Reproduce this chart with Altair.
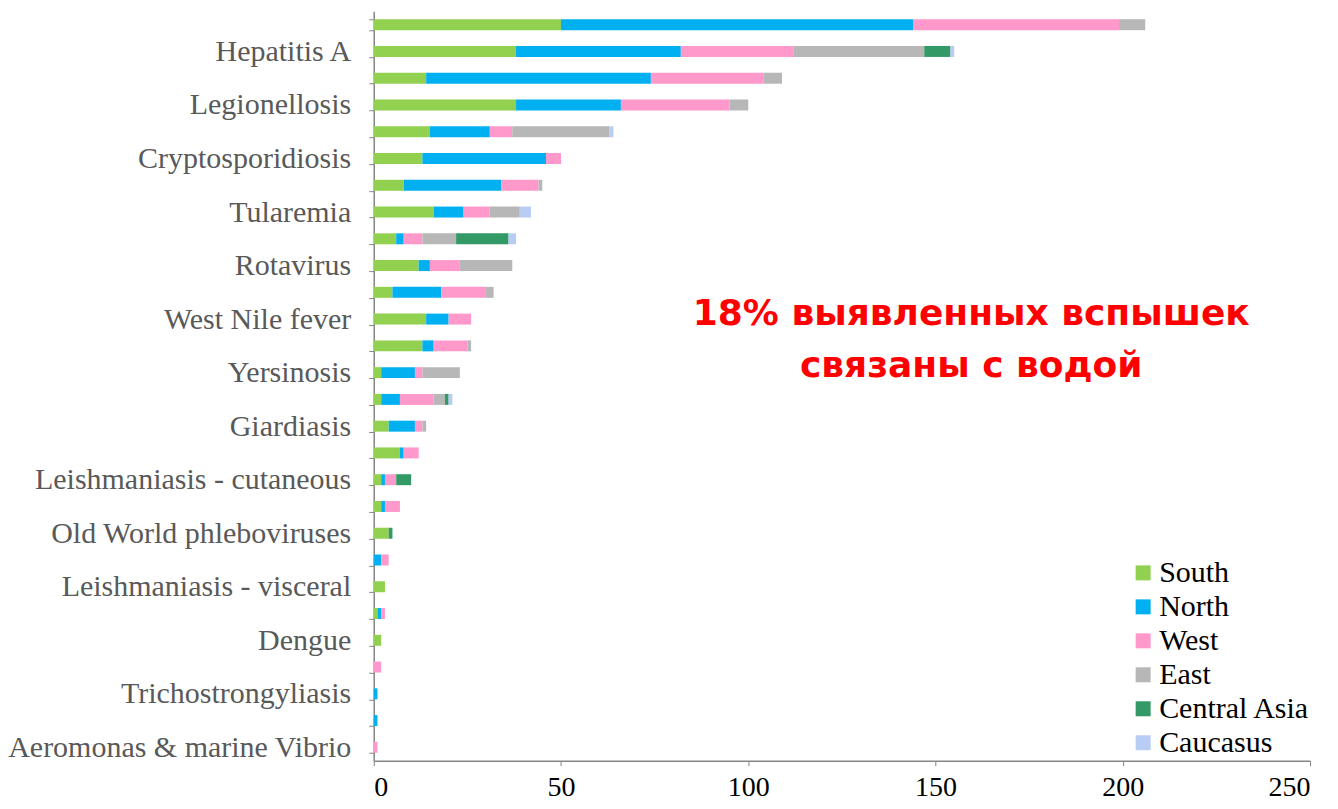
import altair as alt
import pandas as pd

labels = ["", "Hepatitis A", "", "Legionellosis", "", "Cryptosporidiosis", "",
          "Tularemia", "", "Rotavirus", "", "West Nile fever", "", "Yersinosis",
          "", "Giardiasis", "", "Leishmaniasis  - cutaneous", "",
          "Old World phleboviruses", "", "Leishmaniasis - visceral", "", "Dengue",
          "", "Trichostrongyliasis", "", "Aeromonas & marine Vibrio"]

regions = ["South", "North", "West", "East", "Central Asia", "Caucasus"]
colors = ["#92D050", "#00B0F0", "#FF99CC", "#B7B7B7", "#339966", "#B8CCF4"]

south = [50, 38, 14, 38, 15, 13, 8, 16, 6, 12, 5, 14, 13, 2, 2, 4, 7, 2, 2, 4, 0, 3, 1, 2, 0, 0, 0, 0]
north = [94, 44, 60, 28, 16, 33, 26, 8, 2, 3, 13, 6, 3, 9, 5, 7, 1, 1, 1, 0, 2, 0, 1, 0, 0, 1, 1, 0]
west = [55, 30, 30, 29, 6, 4, 10, 7, 5, 8, 12, 6, 9, 2, 9, 2, 4, 3, 4, 0, 2, 0, 1, 0, 2, 0, 0, 1]
east = [7, 35, 5, 5, 26, 0, 1, 8, 9, 14, 2, 0, 1, 10, 3, 1, 0, 0, 0, 0, 0, 0, 0, 0, 0, 0, 0, 0]
central_asia = [0, 7, 0, 0, 0, 0, 0, 0, 14, 0, 0, 0, 0, 0, 1, 0, 0, 4, 0, 1, 0, 0, 0, 0, 0, 0, 0, 0]
caucasus = [0, 1, 0, 0, 1, 0, 0, 3, 2, 0, 0, 0, 0, 0, 1, 0, 0, 0, 0, 0, 0, 0, 0, 0, 0, 0, 0, 0]

series = [south, north, west, east, central_asia, caucasus]
keys = [f"{i:02d}|{lab}" for i, lab in enumerate(labels)]

rows = []
for r_i, (reg, vals) in enumerate(zip(regions, series)):
    for k, v in zip(keys, vals):
        rows.append({"key": k, "region": reg, "order": r_i, "value": v})
df = pd.DataFrame(rows)

bars = alt.Chart(df).mark_bar().encode(
    x=alt.X("value:Q", stack="zero",
            scale=alt.Scale(domain=[0, 250], nice=False),
            axis=alt.Axis(values=[0, 50, 100, 150, 200, 250], title=None, grid=False,
                          labelFont="Liberation Serif", labelFontSize=28,
                          labelColor="#000000", domainColor="#868686",
                          tickColor="#868686", tickSize=5, labelPadding=8,
                          domainWidth=1.5)),
    y=alt.Y("key:N", sort=keys,
            scale=alt.Scale(paddingInner=0.59, paddingOuter=0.295),
            axis=alt.Axis(title=None, labelExpr="split(datum.label, '|')[1]",
                          tickBand="extent", labelOverlap=False, labelLimit=500,
                          labelFont="Liberation Serif", labelFontSize=30,
                          labelColor="#595959", domainColor="#868686",
                          tickColor="#868686", tickSize=5, labelPadding=18,
                          domainWidth=1.5)),
    color=alt.Color("region:N", scale=alt.Scale(domain=regions, range=colors),
                    legend=alt.Legend(title=None, orient="none", legendX=755,
                                      legendY=547, symbolType="square",
                                      symbolSize=225, symbolStrokeWidth=0,
                                      labelFont="Liberation Serif",
                                      labelFontSize=30, labelColor="#000000",
                                      labelOffset=1, rowPadding=4,
                                      symbolOpacity=1)),
    order=alt.Order("order:Q", sort="ascending"),
)

note = alt.Chart(pd.DataFrame({"t": ["18% выявленных вспышек\nсвязаны с водой"]})).mark_text(
    font="DejaVu Sans", fontWeight="bold", fontSize=36, color="#FF0000",
    align="center", baseline="middle", lineBreak="\n", lineHeight=52,
).encode(x=alt.value(598), y=alt.value(303), text="t:N")

chart = alt.layer(bars, note).properties(
    width=937, height=750,
    autosize=alt.AutoSizeParams(type="none"),
    padding={"left": 366, "top": 3, "right": 20, "bottom": 46},
).configure_view(stroke=None)

chart.save("out.html", embed_options={"renderer": "svg", "actions": False})
